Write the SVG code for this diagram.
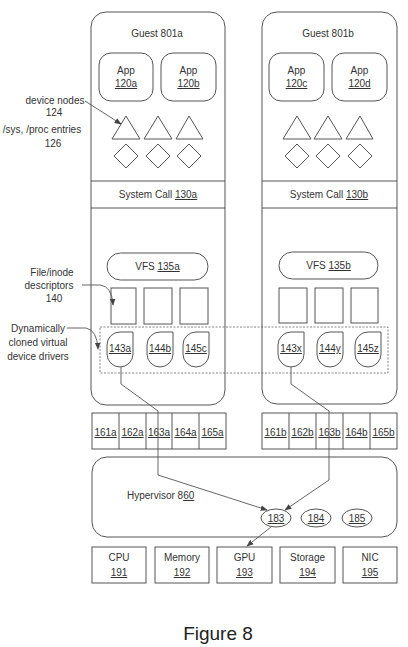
<svg xmlns="http://www.w3.org/2000/svg" xmlns:xlink="http://www.w3.org/1999/xlink" width="408" height="647" viewBox="0 0 408 647">
<style>
.s{fill:none;stroke:#555;stroke-width:1}
.w{fill:#fff;stroke:#555;stroke-width:1}
.t{font-family:"Liberation Sans",Arial,sans-serif;font-size:10px;fill:#333;text-anchor:middle}
.tl{font-family:"Liberation Sans",Arial,sans-serif;font-size:10px;fill:#333;text-anchor:start}
.u{text-decoration:underline}
.c{fill:none;stroke:#555;stroke-width:0.9}
.d{fill:none;stroke:#666;stroke-width:0.8;stroke-dasharray:2,1.5}
</style>
<defs>
<path id="leaf" d="M13,0H26V22A13,13 0 0 1 13,35A13,13 0 0 1 0,22V13A13,13 0 0 1 13,0Z"/>
<marker id="ah" viewBox="0 0 10 10" refX="9" refY="5" markerWidth="7" markerHeight="7" markerUnits="userSpaceOnUse" orient="auto">
<path d="M0,1L10,5L0,9Z" fill="#444"/>
</marker>
</defs>
<rect width="408" height="647" fill="#fff"/>

<g id="guest801a">
<rect class="s" x="91" y="12" width="134" height="393" rx="15"/>
<text class="t" x="157" y="37">Guest 801a</text>
<g id="app120a"><rect class="s" x="99" y="53" width="54" height="48" rx="12"/><text class="t" x="126" y="74">App</text><text class="t u" x="126" y="87">120a</text></g>
<g id="app120b"><rect class="s" x="161" y="53" width="55" height="48" rx="12"/><text class="t" x="188.5" y="74">App</text><text class="t u" x="188.5" y="87">120b</text></g>
<polygon class="s" points="112,139 126,116 140,139"/>
<polygon class="s" points="144,139 158,116 172,139"/>
<polygon class="s" points="176,139 189,116 203,139"/>
<polygon class="s" points="126,144 138,156 126,168 114,156"/>
<polygon class="s" points="158,144 170,156 158,168 146,156"/>
<polygon class="s" points="189,144 201,156 189,168 177,156"/>
<line class="s" x1="91" y1="181" x2="225" y2="181"/>
<line class="s" x1="91" y1="208" x2="225" y2="208"/>
<text class="t" x="158" y="198">System Call <tspan class="u">130a</tspan></text>
<g id="vfs135a"><rect class="s" x="107" y="253" width="101" height="27" rx="13.5"/><text class="t" x="157.5" y="270">VFS <tspan class="u">135a</tspan></text></g>
<rect class="s" x="111" y="288" width="25" height="36"/>
<rect class="s" x="144" y="288" width="28" height="36"/>
<rect class="s" x="180" y="288" width="28" height="36"/>
<g id="drv143a"><use xlink:href="#leaf" href="#leaf" x="107" y="332" class="w"/><text class="t u" x="120" y="352">143a</text></g>
<g id="drv144b"><use xlink:href="#leaf" href="#leaf" x="147" y="332" class="w"/><text class="t u" x="160" y="352">144b</text></g>
<g id="drv145c"><use xlink:href="#leaf" href="#leaf" x="183" y="332" class="w"/><text class="t u" x="196" y="352">145c</text></g>
</g>

<g id="guest801b">
<rect class="s" x="262" y="12" width="135" height="392" rx="15"/>
<text class="t" x="328" y="37">Guest 801b</text>
<g id="app120c"><rect class="s" x="269" y="53" width="55" height="48" rx="12"/><text class="t" x="296.5" y="74">App</text><text class="t u" x="296.5" y="87">120c</text></g>
<g id="app120d"><rect class="s" x="332" y="53" width="55" height="48" rx="12"/><text class="t" x="359.5" y="74">App</text><text class="t u" x="359.5" y="87">120d</text></g>
<polygon class="s" points="283,139 297,116 311,139"/>
<polygon class="s" points="314,139 328,116 342,139"/>
<polygon class="s" points="346,139 360,116 373,139"/>
<polygon class="s" points="297,144 309,156 297,168 285,156"/>
<polygon class="s" points="328,144 340,156 328,168 316,156"/>
<polygon class="s" points="360,144 372,156 360,168 348,156"/>
<line class="s" x1="262" y1="181" x2="397" y2="181"/>
<line class="s" x1="262" y1="208" x2="397" y2="208"/>
<text class="t" x="329" y="198">System Call <tspan class="u">130b</tspan></text>
<g id="vfs135b"><rect class="s" x="279" y="252" width="99" height="27" rx="13.5"/><text class="t" x="328.5" y="269">VFS <tspan class="u">135b</tspan></text></g>
<rect class="s" x="279" y="288" width="28" height="35"/>
<rect class="s" x="315" y="288" width="28" height="35"/>
<rect class="s" x="351" y="288" width="27" height="35"/>
<g id="drv143x"><use xlink:href="#leaf" href="#leaf" x="278" y="332" class="w"/><text class="t u" x="291" y="352">143x</text></g>
<g id="drv144y"><use xlink:href="#leaf" href="#leaf" x="317" y="332" class="w"/><text class="t u" x="330" y="352">144y</text></g>
<g id="drv145z"><use xlink:href="#leaf" href="#leaf" x="355" y="332" class="w"/><text class="t u" x="368" y="352">145z</text></g>
</g>

<g id="cloned-drivers-group">
<rect class="d" x="100" y="327" width="288" height="46"/>
</g>

<g id="regs-a">
<rect class="s" x="92" y="413" width="134" height="36"/>
<line class="s" x1="119" y1="413" x2="119" y2="449"/>
<line class="s" x1="146" y1="413" x2="146" y2="449"/>
<line class="s" x1="172" y1="413" x2="172" y2="449"/>
<line class="s" x1="199" y1="413" x2="199" y2="449"/>
<text class="t u" x="105.5" y="436">161a</text>
<text class="t u" x="132.5" y="436">162a</text>
<text class="t u" x="159" y="436">163a</text>
<text class="t u" x="185.5" y="436">164a</text>
<text class="t u" x="212.5" y="436">165a</text>
</g>

<g id="regs-b">
<rect class="s" x="262" y="413" width="135" height="36"/>
<line class="s" x1="289" y1="413" x2="289" y2="449"/>
<line class="s" x1="316" y1="413" x2="316" y2="449"/>
<line class="s" x1="343" y1="413" x2="343" y2="449"/>
<line class="s" x1="370" y1="413" x2="370" y2="449"/>
<text class="t u" x="275.5" y="436">161b</text>
<text class="t u" x="302.5" y="436">162b</text>
<text class="t u" x="329.5" y="436">163b</text>
<text class="t u" x="356.5" y="436">164b</text>
<text class="t u" x="383.5" y="436">165b</text>
</g>

<g id="hypervisor860">
<rect class="s" x="92" y="457" width="305" height="80" rx="15"/>
<text class="tl" x="127" y="499">Hypervisor 8<tspan class="u">60</tspan></text>
<g id="n183"><ellipse class="s" cx="276" cy="518" rx="15" ry="9"/><text class="t u" x="276" y="522">183</text></g>
<g id="n184"><ellipse class="s" cx="316" cy="518" rx="15" ry="9"/><text class="t u" x="316" y="522">184</text></g>
<g id="n185"><ellipse class="s" cx="357" cy="518" rx="15" ry="9"/><text class="t u" x="357" y="522">185</text></g>
</g>

<g id="hardware">
<g id="cpu191"><rect class="s" x="92" y="547" width="54" height="36"/><text class="t" x="119" y="561">CPU</text><text class="t u" x="119" y="576">191</text></g>
<g id="mem192"><rect class="s" x="155" y="547" width="54" height="36"/><text class="t" x="182" y="561">Memory</text><text class="t u" x="182" y="576">192</text></g>
<g id="gpu193"><rect class="s" x="217" y="547" width="55" height="36"/><text class="t" x="244.5" y="561">GPU</text><text class="t u" x="244.5" y="576">193</text></g>
<g id="sto194"><rect class="s" x="280" y="547" width="55" height="36"/><text class="t" x="307.5" y="561">Storage</text><text class="t u" x="307.5" y="576">194</text></g>
<g id="nic195"><rect class="s" x="343" y="547" width="54" height="36"/><text class="t" x="370" y="561">NIC</text><text class="t u" x="370" y="576">195</text></g>
</g>

<g id="labels">
<text class="t" x="55" y="104">device nodes</text>
<text class="t" x="54" y="116">124</text>
<text class="t" x="42" y="133">/sys, /proc entries</text>
<text class="t" x="53" y="147">126</text>
<text class="t" x="52" y="276">File/inode</text>
<text class="t" x="49" y="289">descriptors</text>
<text class="t" x="54" y="302">140</text>
<text class="t" x="38" y="332">Dynamically</text>
<text class="t" x="38" y="346">cloned virtual</text>
<text class="t" x="38" y="360">device drivers</text>
</g>

<g id="connectors">
<path class="c" d="M85,101 L121,124" marker-end="url(#ah)"/>
<path class="c" d="M82,285 H100 Q112,286 113,305" marker-end="url(#ah)"/>
<path class="c" d="M67,328 H86 Q97,330 98,349" marker-end="url(#ah)"/>
<path class="c" d="M121,367 V384 L158,411 V475 L267,510" marker-end="url(#ah)"/>
<path class="c" d="M291,367 V384 L329,411 V480 L285,510" marker-end="url(#ah)"/>
<path class="c" d="M271,527 L247,546" marker-end="url(#ah)"/>
</g>

<text x="218" y="640" font-family="Liberation Sans, Arial, sans-serif" font-size="19" fill="#222" text-anchor="middle">Figure 8</text>
</svg>
